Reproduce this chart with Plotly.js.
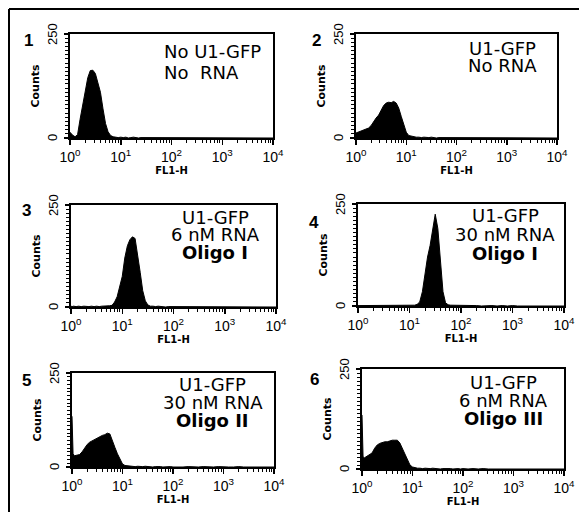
<!DOCTYPE html>
<html><head><meta charset="utf-8">
<script src="https://cdn.plot.ly/plotly-3.0.1.min.js"></script>
<style>html,body{margin:0;padding:0;background:#fff}</style>
</head><body><div id="chart" style="width:579px;height:512px"></div>
<script>
// FL1-H channel values (bin positions)
const fl1 = [1, 1.05, 1.12, 1.26, 1.41, 1.58, 1.78, 2.00, 2.24, 2.51, 2.82, 3.16, 3.55, 3.98, 4.47, 5.01, 5.62, 6.31, 7.08, 7.94, 8.91, 10.0,
  11.2, 12.6, 14.1, 15.8, 17.8, 20.0, 22.4, 25.1, 28.2, 31.6, 35.5, 39.8, 44.7, 50.1, 56.2, 63.1, 70.8, 79.4, 89.1, 100,
  126, 158, 200, 251, 316, 398, 501, 631, 794, 1000, 1259, 1585, 1995, 2512, 3162, 3981, 5012, 6310, 7943, 10000];

// Counts per panel
const counts1 = [14,10,7,3,8,45,80,115,145,162,163,155,135,110,70,35,15,6,3,2,1,2,
  1,2,0,1,2,1,0,1,1,0,1,0,1,0,0,1,0,1,0,0,
  1,0,0,1,0,0,0,1,0,0,0,0,1,0,0,0,0,0,0,0];
const counts2 = [12,13,14,18,20,22,24,30,40,48,55,65,78,84,86,85,88,84,72,52,30,14,
  6,4,3,2,2,1,2,1,1,2,1,0,1,1,0,1,0,1,0,1,
  0,1,0,1,0,0,1,0,0,0,1,0,0,0,0,1,0,0,0,0];
const counts3 = [2,1,2,1,2,1,2,1,1,2,1,2,1,2,2,2,3,4,12,25,48,75,
  120,150,165,172,168,130,85,40,15,5,2,2,1,2,1,1,0,1,1,0,
  1,0,1,0,0,1,0,1,0,0,0,1,0,0,0,0,0,1,0,0];
const counts4 = [1,1,2,1,1,2,1,1,2,1,1,1,2,1,2,1,1,2,1,2,1,2,
  2,2,4,10,35,80,120,148,186,225,190,110,35,8,3,2,2,1,2,1,
  1,2,1,0,1,1,0,1,0,1,0,0,1,0,0,1,0,0,0,0];
const counts5 = [135,35,30,32,33,40,50,60,66,70,72,78,80,84,86,90,88,72,52,35,22,8,
  4,3,2,2,1,2,1,1,2,1,1,0,1,2,1,0,1,0,1,0,
  1,0,1,0,0,1,0,0,1,0,0,0,1,0,0,0,0,0,1,0];
const counts6 = [135,30,28,32,36,40,52,60,64,66,68,68,70,72,72,72,65,52,38,22,10,5,
  3,2,2,1,2,1,1,2,1,1,0,1,1,2,1,0,1,1,0,1,
  0,1,0,1,0,0,1,0,0,0,1,0,0,0,1,0,0,0,0,0];

const panelNumbers = ['1','2','3','4','5','6'];
const panelText = [
  ['No U1-GFP', 'No  RNA'],
  ['U1-GFP', 'No RNA'],
  ['U1-GFP', '6 nM RNA', '<b>Oligo I</b>'],
  ['U1-GFP', '30 nM RNA', '<b>Oligo I</b>'],
  ['U1-GFP', '30 nM RNA', '<b>Oligo II</b>'],
  ['U1-GFP', '6 nM RNA', '<b>Oligo III</b>']
];
const xTickVals = [1, 10, 100, 1000, 10000];
const xTickText = ['10<sup>0</sup>', '10<sup>1</sup>', '10<sup>2</sup>', '10<sup>3</sup>', '10<sup>4</sup>'];
const yTickVals = [0, 250];
const yTickText = ['0', '250'];
const xTitle = '<b>FL1-H</b>';
const yTitle = '<b>Counts</b>';

const countsAll = [counts1, counts2, counts3, counts4, counts5, counts6];

// ---- layout geometry (pixels) ----
const W = 579, H = 512;
const boxes = [[70,273,34,138],[356,557,34,138],[71,276,205,307],[358,564,204,306],[72,274,373,467],[362,564,369,469]];
const numPos = [[28,40],[316,40],[26,210],[314,222],[26,380],[314,379]];
const textPos = [ {x:162, anchor:'left', y:[51,72]}, {x:502, anchor:'center', y:[48,65]},
  {x:215, anchor:'center', y:[217,234,252]}, {x:505, anchor:'center', y:[215,234,253]},
  {x:213, anchor:'center', y:[384,402,420]}, {x:503, anchor:'center', y:[382,400,418]} ];
const px = v => v / W, py = v => 1 - v / H;
const FONT = 'Liberation Sans, Arial, sans-serif';
const TFONT = 'DejaVu Sans, sans-serif';

const minorX = [];
for (let d = 1; d < 10000; d *= 10) for (let k = 2; k <= 9; k++) minorX.push(d * k);

const data = [];
const layout = {
  width: W, height: H, margin: {l:0, r:0, t:0, b:0},
  paper_bgcolor: '#fff', plot_bgcolor: '#fff', showlegend: false,
  font: {family: FONT, color: '#000'},
  annotations: [], shapes: []
};

countsAll.forEach((c, i) => {
  const s = i === 0 ? '' : String(i + 1);
  data.push({x: fl1, y: c, xaxis: 'x' + s, yaxis: 'y' + s, type: 'scatter', mode: 'lines',
    fill: 'tozeroy', fillcolor: '#000', line: {color: '#000', width: 1}, hoverinfo: 'skip'});
  const b = boxes[i];
  layout['xaxis' + s] = {
    type: 'log', range: [0, 4], domain: [px(b[0]), px(b[1])], anchor: 'y' + s,
    showline: true, mirror: true, linecolor: '#000', linewidth: 2,
    ticks: 'outside', ticklen: 5, tickwidth: 1.5, tickcolor: '#000',
    tickmode: 'array', tickvals: xTickVals, ticktext: xTickText,
    tickfont: {family: FONT, size: 14, color: '#000'},
    minor: {tickmode: 'array', tickvals: minorX, ticks: 'outside', ticklen: 3, tickwidth: 1, tickcolor: '#000'},
    showgrid: false, zeroline: false, fixedrange: true,
    title: {text: xTitle, font: {family: TFONT, size: 10, color: '#000'}, standoff: 0}
  };
  layout['yaxis' + s] = {
    range: [0, 250], domain: [py(b[3]), py(b[2])], anchor: 'x' + s,
    showline: true, mirror: true, linecolor: '#000', linewidth: 2,
    ticks: 'outside', ticklen: 4, tickwidth: 1.5, tickcolor: '#000',
    tickmode: 'array', tickvals: yTickVals, ticktext: yTickText, showticklabels: false,
    minor: {tickmode: 'linear', tick0: 0, dtick: 10, ticks: 'outside', ticklen: 3, tickwidth: 1, tickcolor: '#000'},
    showgrid: false, zeroline: false, fixedrange: true,
    title: {text: yTitle, font: {family: TFONT, size: 11, color: '#000'}, standoff: 22}
  };
  // rotated y tick labels, placed at their axis values
  yTickVals.forEach((v, k) => {
    layout.annotations.push({xref: 'paper', yref: 'y' + s, x: px(b[0] - 18), y: v,
      text: yTickText[k], textangle: -90, showarrow: false, xanchor: 'center', yanchor: 'middle',
      font: {family: FONT, size: 13, color: '#000'}});
  });
  layout.annotations.push({xref: 'paper', yref: 'paper', x: px(numPos[i][0]), y: py(numPos[i][1]),
    text: '<b>' + panelNumbers[i] + '</b>', showarrow: false, xanchor: 'center', yanchor: 'middle',
    font: {family: FONT, size: 17, color: '#000'}});
  const tp = textPos[i];
  panelText[i].forEach((t, j) => {
    layout.annotations.push({xref: 'paper', yref: 'paper', x: px(tp.x), y: py(tp.y[j]),
      text: t, showarrow: false, xanchor: tp.anchor, yanchor: 'middle',
      font: {family: TFONT, size: 18, color: '#000'}});
  });
});

// outer frame (left and top edges visible in the scan)
layout.shapes.push({type: 'line', xref: 'paper', yref: 'paper', x0: px(9), x1: px(9), y0: 0, y1: py(9), line: {color: '#000', width: 2}});
layout.shapes.push({type: 'line', xref: 'paper', yref: 'paper', x0: px(9), x1: 1, y0: py(9), y1: py(9), line: {color: '#000', width: 2}});

Plotly.newPlot('chart', data, layout, {staticPlot: true, displayModeBar: false});
</script></body></html>
